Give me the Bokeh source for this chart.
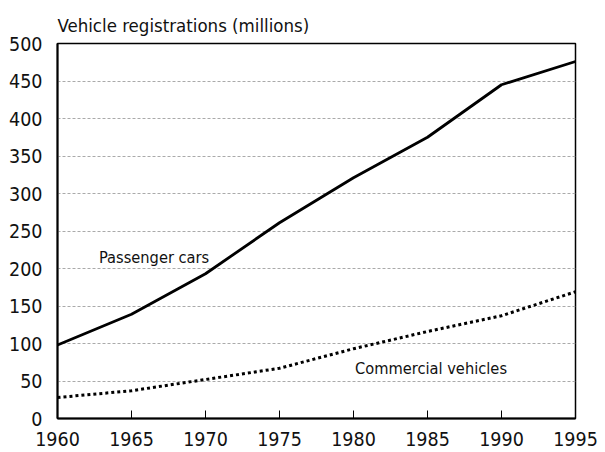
from bokeh.plotting import figure
from bokeh.models import ColumnDataSource, FixedTicker, Range1d, Label
from bokeh.embed import file_html
from bokeh.resources import INLINE

years = [1960, 1965, 1970, 1975, 1980, 1985, 1990, 1995]
passenger_cars = [98, 139, 193, 261, 321, 375, 445, 476]
commercial_vehicles = [28, 37, 52, 67, 93, 116, 137, 169]
x_ticks = [1960, 1965, 1970, 1975, 1980, 1985, 1990, 1995]
y_ticks = [0, 50, 100, 150, 200, 250, 300, 350, 400, 450, 500]

FONT = "'DejaVu Sans Condensed', Roboto, sans-serif"

p = figure(output_backend="svg", toolbar_location=None,
           frame_width=518, frame_height=375,
           min_border_left=57, min_border_top=43, min_border_right=29, min_border_bottom=34,
           x_range=Range1d(1960, 1995), y_range=Range1d(0, 500),
           title="Vehicle registrations (millions)")

p.title.text_font = FONT
p.title.text_font_size = "18.5px"
p.title.text_font_style = "normal"
p.title.align = "left"
p.title.text_color = "#111111"
p.title.standoff = 15

src = ColumnDataSource(dict(x=years, pc=passenger_cars, cv=commercial_vehicles))
p.line("x", "pc", source=src, line_color="black", line_width=2.8)
p.line("x", "cv", source=src, line_color="black", line_width=3, line_dash="3 3")

p.add_layout(Label(x=1962.8, y=215, text="Passenger cars", text_font=FONT,
                   text_font_size="16.3px", text_baseline="middle", text_color="#111111"))
p.add_layout(Label(x=1980.1, y=67, text="Commercial vehicles", text_font=FONT,
                   text_font_size="16.3px", text_baseline="middle", text_color="#111111"))

p.xaxis.ticker = FixedTicker(ticks=x_ticks)
p.yaxis.ticker = FixedTicker(ticks=y_ticks)
for ax in (p.xaxis, p.yaxis):
    ax.major_label_text_font = FONT
    ax.major_label_text_font_size = "19.5px"
    ax.major_label_text_color = "#111111"
    ax.axis_line_color = "black"
    ax.axis_line_width = 2
    ax.minor_tick_line_color = None

p.xaxis.major_tick_in = 8
p.xaxis.major_tick_out = 0
p.xaxis.major_tick_line_color = "black"
p.xaxis.major_label_standoff = 13
p.yaxis.major_tick_line_color = None
p.yaxis.major_label_standoff = 9

p.xgrid.grid_line_color = None
p.ygrid.grid_line_color = "#aaaaaa"
p.ygrid.grid_line_dash = "3 2"
p.ygrid.grid_line_width = 1

p.outline_line_color = "black"
p.outline_line_width = 1.5
p.background_fill_color = "white"
p.border_fill_color = "white"

open("out.html", "w").write(file_html(p, INLINE))
